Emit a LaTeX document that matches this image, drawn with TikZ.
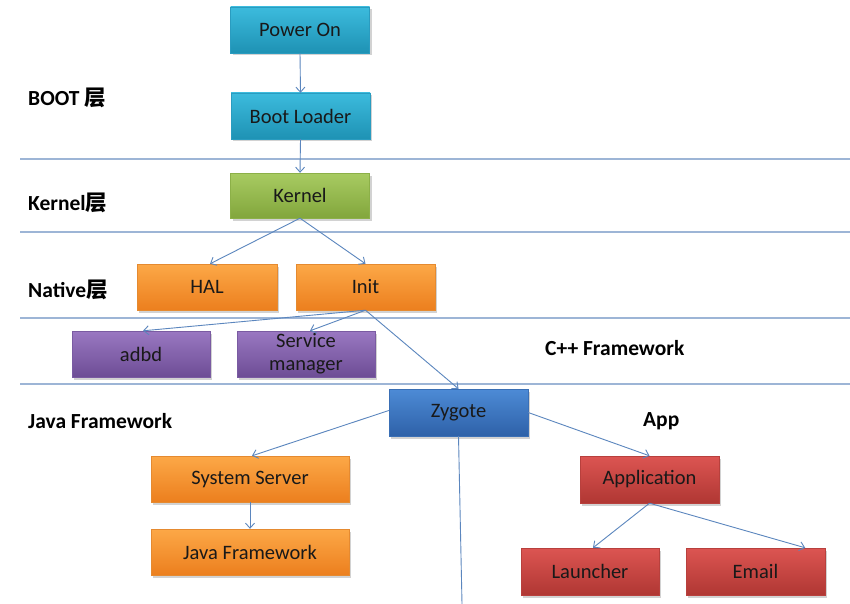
\documentclass[tikz,border=0pt]{standalone}
\usepackage{fontspec}
\setmainfont{Carlito}
\newfontfamily\cjkfont{Noto Sans CJK SC}
\usetikzlibrary{arrows.meta,shadows}
\definecolor{linec}{HTML}{5B86BE}
\definecolor{layerc}{HTML}{9DB5D6}
\tikzset{
  box/.style={rectangle, minimum width=139pt, minimum height=46pt, inner sep=0pt,
    font=\fontsize{20.5}{23}\selectfont, text=black!90, align=center,
    drop shadow={shadow xshift=2pt, shadow yshift=-2.5pt, opacity=0.35}},
  cyanbox/.style={box, top color=cyan1, bottom color=cyan2, draw=cyan3},
  greenbox/.style={box, top color=green1, bottom color=green2, draw=green3},
  orangebox/.style={box, top color=orange1, bottom color=orange2, draw=orange3},
  purplebox/.style={box, top color=purple1, bottom color=purple2, draw=purple3},
  bluebox/.style={box, top color=blue1, bottom color=blue2, draw=blue3},
  redbox/.style={box, top color=red1, bottom color=red2, draw=red3},
  conn/.style={draw=linec, line width=0.9pt, -{Straight Barb[length=5pt,width=9pt]}},
  plainconn/.style={draw=linec, line width=0.9pt},
  layerline/.style={draw=layerc, line width=1.2pt},
  layerlabel/.style={anchor=west, inner sep=0pt, font=\fontsize{21.5}{25}\selectfont\bfseries}
}
\definecolor{cyan1}{HTML}{3CBBDD}\definecolor{cyan2}{HTML}{1E92B4}\definecolor{cyan3}{HTML}{2A9CC0}
\definecolor{green1}{HTML}{A8CB62}\definecolor{green2}{HTML}{82A63C}\definecolor{green3}{HTML}{8CB048}
\definecolor{orange1}{HTML}{FCA847}\definecolor{orange2}{HTML}{EC7F1E}\definecolor{orange3}{HTML}{E58A30}
\definecolor{purple1}{HTML}{9A78C2}\definecolor{purple2}{HTML}{6D4D95}\definecolor{purple3}{HTML}{7A5BA2}
\definecolor{blue1}{HTML}{4D8BD6}\definecolor{blue2}{HTML}{2E61A8}\definecolor{blue3}{HTML}{3A6FB5}
\definecolor{red1}{HTML}{DC5552}\definecolor{red2}{HTML}{B03733}\definecolor{red3}{HTML}{B8403D}
\begin{document}
\begin{tikzpicture}[x=1pt,y=-1pt]
\useasboundingbox[fill=white] (0,0) rectangle (850,604);
% layer lines
\draw[layerline] (20,159) -- (850,159);
\draw[layerline] (20,232) -- (850,232);
\draw[layerline] (20,318) -- (850,318);
\draw[layerline] (20,384) -- (850,384);
% labels
\node[layerlabel] (lboot) at (28,98) {BOOT {\cjkfont\bfseries 层}};
\node[layerlabel] (lkernel) at (28,203) {Kernel{\cjkfont\bfseries 层}};
\node[layerlabel] (lnative) at (28,290) {Native{\cjkfont\bfseries 层}};
\node[layerlabel] (lcpp) at (545,348) {C++ Framework};
\node[layerlabel] (ljava) at (28,421) {Java Framework};
\node[layerlabel] (lapp) at (643,421) {App};
% boxes
\node[cyanbox] (power) at (300,30) {Power On};
\node[cyanbox] (boot) at (300.5,116) {Boot Loader};
\node[greenbox, minimum height=45pt] (kernel) at (300,195.5) {Kernel};
\node[orangebox, minimum width=140pt] (hal) at (207,287) {HAL};
\node[orangebox] (init) at (365.5,287) {Init};
\node[purplebox, minimum width=138pt] (adbd) at (141,354) {adbd};
\node[purplebox, minimum width=138pt] (sm) at (306,354) {Service\\manager};
\node[bluebox, minimum height=47pt] (zygote) at (458.5,412.5) {Zygote};
\node[orangebox, minimum width=198pt] (sysserver) at (250,479) {System Server};
\node[orangebox, minimum width=198pt] (javafw) at (250,552) {Java Framework};
\node[redbox, minimum height=47pt] (app) at (649.5,479.5) {Application};
\node[redbox, minimum width=138pt, minimum height=47pt] (launcher) at (590,571.5) {Launcher};
\node[redbox, minimum height=47pt] (email) at (755.5,571.5) {Email};
\coordinate (zend) at (462,604);
% connectors
\draw[conn] (power.south) -- (boot.north);
\draw[conn] (boot.south) -- (kernel.north);
\draw[conn] (kernel.south) -- ([xshift=3pt]hal.north);
\draw[conn] (kernel.south) -- (init.north);
\draw[conn] (init.south) -- ([xshift=2pt]adbd.north);
\draw[conn] (init.south) -- ([xshift=4pt]sm.north);
\draw[conn] (init.south) -- (zygote.north);
\draw[conn] ([yshift=2pt]zygote.west) -- ([xshift=2pt]sysserver.north);
\draw[conn] (zygote.east) -- (app.north);
\draw[plainconn] (zygote.south) -- (zend);
\draw[conn] (sysserver.south) -- (javafw.north);
\draw[conn] (app.south) -- ([xshift=3pt]launcher.north);
\draw[conn] (app.south) -- ([xshift=-20pt]email.north east);
\end{tikzpicture}
\end{document}
